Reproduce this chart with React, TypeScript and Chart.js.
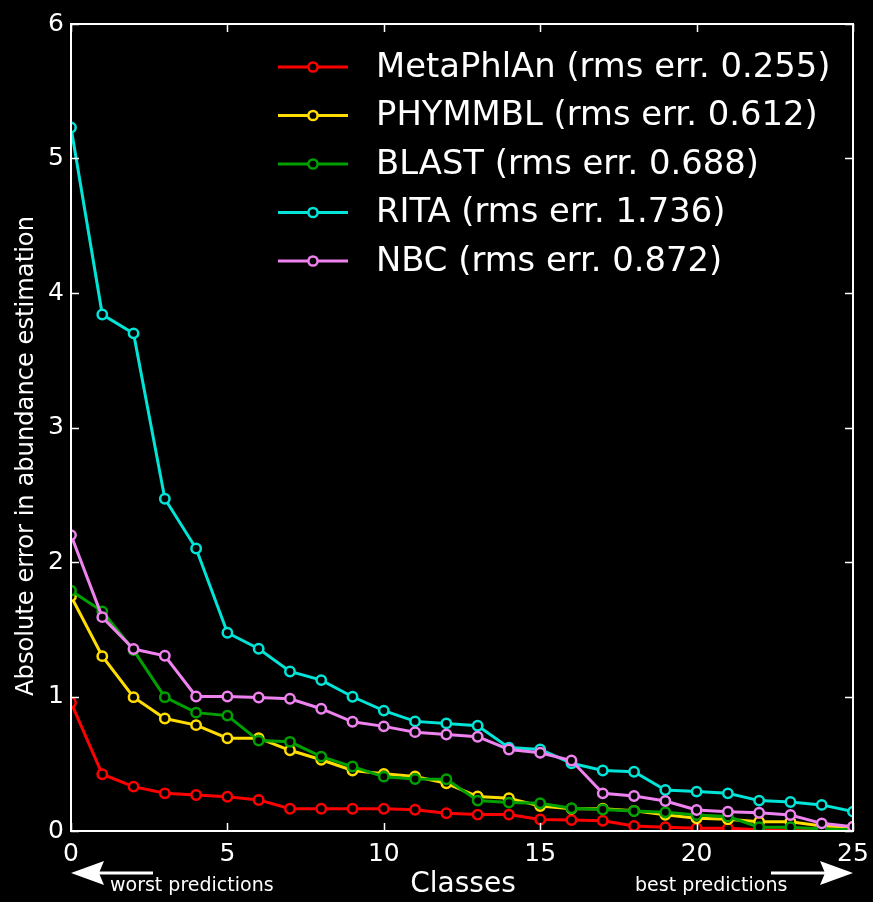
import React, { useEffect, useRef } from "react";
import { Chart, registerables } from "chart.js";

Chart.register(...registerables);

const FONT = "'DejaVu Sans', 'Liberation Sans', sans-serif";

// Class rank (0 = worst predicted, 25 = best predicted)
const classes = [0, 1, 2, 3, 4, 5, 6, 7, 8, 9, 10, 11, 12, 13, 14, 15, 16, 17, 18, 19, 20, 21, 22, 23, 24, 25];

// Absolute error in abundance estimation per method
const metaphlan = [0.955, 0.422, 0.33, 0.28, 0.268, 0.255, 0.231, 0.165, 0.165, 0.165, 0.165, 0.158, 0.132, 0.122, 0.122, 0.085, 0.082, 0.076, 0.037, 0.028, 0.02, 0.02, 0.01, 0.005, 0.003, 0.002];
const phymmbl = [1.745, 1.3, 0.995, 0.836, 0.787, 0.69, 0.69, 0.6, 0.53, 0.45, 0.425, 0.405, 0.355, 0.256, 0.244, 0.185, 0.165, 0.165, 0.15, 0.12, 0.095, 0.087, 0.069, 0.069, 0.037, 0.03];
const blast = [1.787, 1.633, 1.345, 0.995, 0.88, 0.858, 0.672, 0.663, 0.553, 0.479, 0.404, 0.387, 0.385, 0.226, 0.211, 0.206, 0.169, 0.16, 0.149, 0.139, 0.119, 0.107, 0.028, 0.028, 0.015, 0.01];
const rita = [5.23, 3.84, 3.7, 2.47, 2.1, 1.474, 1.355, 1.186, 1.122, 0.998, 0.895, 0.815, 0.8, 0.782, 0.62, 0.607, 0.504, 0.45, 0.44, 0.305, 0.293, 0.28, 0.226, 0.216, 0.194, 0.144];
const nbc = [2.2, 1.59, 1.353, 1.303, 1.0, 1.0, 0.993, 0.983, 0.909, 0.812, 0.778, 0.735, 0.718, 0.701, 0.606, 0.582, 0.524, 0.28, 0.26, 0.223, 0.156, 0.144, 0.136, 0.119, 0.057, 0.032];

const seriesNames = [
  "MetaPhlAn (rms err. 0.255)",
  "PHYMMBL (rms err. 0.612)",
  "BLAST (rms err. 0.688)",
  "RITA (rms err. 1.736)",
  "NBC (rms err. 0.872)",
];
const seriesColors = ["#ff0000", "#ffdd00", "#00a000", "#00e5d8", "#ee82ee"];
const seriesValues = [metaphlan, phymmbl, blast, rita, nbc];

const xTickStep = 5;
const yTickStep = 1;

const frameAndNotes = {
  id: "frameAndNotes",
  beforeDraw(chart: any) {
    const { ctx, width, height } = chart;
    ctx.save();
    ctx.fillStyle = "#000";
    ctx.fillRect(0, 0, width, height);
    ctx.restore();
  },
  afterDraw(chart: any) {
    const { ctx, chartArea } = chart;
    const { left, right, top, bottom } = chartArea;
    const xs = chart.scales.x;
    const ys = chart.scales.y;
    ctx.save();

    // inward tick marks on all four sides
    ctx.strokeStyle = "#ffffff";
    ctx.lineWidth = 1.5;
    const tickLen = 8;
    ctx.beginPath();
    for (let v = xs.min; v <= xs.max + 1e-9; v += xTickStep) {
      const px = Math.round(xs.getPixelForValue(v)) + 0.5;
      ctx.moveTo(px, bottom);
      ctx.lineTo(px, bottom - tickLen);
      ctx.moveTo(px, top);
      ctx.lineTo(px, top + tickLen);
    }
    for (let v = ys.min; v <= ys.max + 1e-9; v += yTickStep) {
      const py = Math.round(ys.getPixelForValue(v)) + 0.5;
      ctx.moveTo(left, py);
      ctx.lineTo(left + tickLen, py);
      ctx.moveTo(right, py);
      ctx.lineTo(right - tickLen, py);
    }
    ctx.stroke();

    // axes frame
    ctx.lineWidth = 2;
    ctx.strokeRect(left, top, right - left, bottom - top);

    // legend
    const rowY = [67, 115.5, 164, 212.5, 261];
    chart.data.datasets.forEach((ds: any, i: number) => {
      const y = rowY[i];
      ctx.strokeStyle = ds.borderColor;
      ctx.lineWidth = 3;
      ctx.beginPath();
      ctx.moveTo(278, y);
      ctx.lineTo(348, y);
      ctx.stroke();
      ctx.beginPath();
      ctx.arc(313, y, 4.6, 0, Math.PI * 2);
      ctx.fillStyle = "#000";
      ctx.fill();
      ctx.lineWidth = 2.5;
      ctx.stroke();
      ctx.fillStyle = "#ffffff";
      ctx.font = `33.8px ${FONT}`;
      ctx.textAlign = "left";
      ctx.textBaseline = "middle";
      ctx.fillText(ds.label, 376, y + 1);
    });

    // axis titles
    ctx.fillStyle = "#ffffff";
    ctx.font = `28px ${FONT}`;
    ctx.textAlign = "center";
    ctx.textBaseline = "middle";
    ctx.fillText("Classes", 463, 885);

    ctx.save();
    ctx.translate(27, 456);
    ctx.rotate(-Math.PI / 2);
    ctx.font = `24.2px ${FONT}`;
    ctx.fillText("Absolute error in abundance estimation", 0, 0);
    ctx.restore();

    // direction notes with arrows
    ctx.font = `19px ${FONT}`;
    ctx.textAlign = "left";
    ctx.textBaseline = "middle";
    ctx.fillText("worst predictions", 110, 886);
    ctx.fillText("best predictions", 635, 886);

    const ay = 873;
    ctx.strokeStyle = "#ffffff";
    ctx.fillStyle = "#ffffff";
    ctx.lineWidth = 3;
    ctx.beginPath();
    ctx.moveTo(153, ay);
    ctx.lineTo(98, ay);
    ctx.moveTo(771, ay);
    ctx.lineTo(826, ay);
    ctx.stroke();
    ctx.beginPath();
    ctx.moveTo(71, ay);
    ctx.lineTo(104, ay - 12);
    ctx.lineTo(99, ay);
    ctx.lineTo(104, ay + 12);
    ctx.closePath();
    ctx.fill();
    ctx.beginPath();
    ctx.moveTo(853, ay);
    ctx.lineTo(820, ay - 12);
    ctx.lineTo(825, ay);
    ctx.lineTo(820, ay + 12);
    ctx.closePath();
    ctx.fill();

    ctx.restore();
  },
};

export default function App() {
  const canvasRef = useRef<HTMLCanvasElement | null>(null);

  useEffect(() => {
    document.body.style.margin = "0";
    document.body.style.background = "#000";
    const canvas = canvasRef.current;
    if (!canvas) return;

    const datasets = seriesNames.map((name, i) => ({
      label: name,
      data: classes.map((c, k) => ({ x: c, y: seriesValues[i][k] })),
      borderColor: seriesColors[i],
      backgroundColor: seriesColors[i],
      borderWidth: 3,
      pointRadius: 4.7,
      pointHoverRadius: 4.7,
      pointBorderWidth: 2.5,
      pointBackgroundColor: "#000",
      pointBorderColor: seriesColors[i],
      tension: 0,
      clip: 0,
      order: seriesNames.length - i,
    }));

    const chart = new Chart(canvas, {
      type: "line",
      data: { datasets },
      options: {
        animation: false,
        responsive: false,
        devicePixelRatio: 1,
        layout: { padding: { top: 24, right: 20, left: 0, bottom: 0 } },
        plugins: {
          legend: { display: false },
          tooltip: { enabled: false },
        },
        scales: {
          x: {
            type: "linear",
            min: 0,
            max: 25,
            ticks: {
              stepSize: xTickStep,
              color: "#ffffff",
              font: { family: FONT, size: 25 },
              padding: 8,
              maxRotation: 0,
              autoSkip: false,
            },
            grid: { display: false, drawTicks: false },
            border: { display: false },
            afterFit: (s: any) => {
              s.height = 71;
              s.paddingLeft = 0;
              s.paddingRight = 0;
            },
          },
          y: {
            type: "linear",
            min: 0,
            max: 6,
            ticks: {
              stepSize: yTickStep,
              color: "#ffffff",
              font: { family: FONT, size: 25 },
              padding: 7,
            },
            grid: { display: false, drawTicks: false },
            border: { display: false },
            afterFit: (s: any) => {
              s.width = 71;
              s.paddingTop = 0;
              s.paddingBottom = 0;
            },
          },
        },
      },
      plugins: [frameAndNotes],
    });

    return () => chart.destroy();
  }, []);

  return (
    <div style={{ width: 873, height: 902, background: "#000" }}>
      <canvas ref={canvasRef} width={873} height={902} style={{ display: "block" }} />
    </div>
  );
}
